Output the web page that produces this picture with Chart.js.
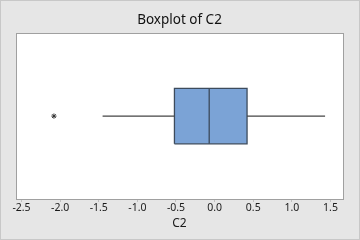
<!DOCTYPE html>
<html>
<head>
<meta charset="utf-8">
<script src="https://cdn.jsdelivr.net/npm/chart.js@4/dist/chart.umd.min.js"></script>
<style>
html,body{margin:0;padding:0;background:#e6e6e6;}
canvas{display:block;}
</style>
</head>
<body>
<canvas id="c" width="360" height="240"></canvas>
<script>
// ---- data ----
const categories = ['C2'];
const q1Values = [-0.52];
const medianValues = [-0.07];
const q3Values = [0.42];
const whiskerLowValues = [-1.45];
const whiskerHighValues = [1.43];
const outlierValues = [-2.08];
const tickValues = [-2.5, -2.0, -1.5, -1.0, -0.5, 0.0, 0.5, 1.0, 1.5];

// ---- style ----
const BOX_HALF = 0.335;   // half box height in y-units
const boxFill = '#7ba3d6';
const boxEdge = '#3d4b5c';
const lineCol = '#444444';

const i = 0;
const q1 = q1Values[i], q3 = q3Values[i], med = medianValues[i];
const wl = whiskerLowValues[i], wh = whiskerHighValues[i];

const datasets = [
  { // box
    data: [{x:q1,y:-BOX_HALF},{x:q3,y:-BOX_HALF},{x:q3,y:BOX_HALF},{x:q1,y:BOX_HALF},{x:q1,y:-BOX_HALF}],
    showLine: true, fill: 'shape', backgroundColor: boxFill, borderColor: boxEdge,
    borderWidth: 1.3, pointRadius: 0, tension: 0, order: 10
  },
  { // median
    data: [{x:med,y:-BOX_HALF},{x:med,y:BOX_HALF}],
    showLine: true, borderColor: boxEdge, borderWidth: 1.3, pointRadius: 0, order: 1
  },
  { // lower whisker
    data: [{x:wl,y:0},{x:q1,y:0}],
    showLine: true, borderColor: lineCol, borderWidth: 1.2, pointRadius: 0, order: 1
  },
  { // upper whisker
    data: [{x:q3,y:0},{x:wh,y:0}],
    showLine: true, borderColor: lineCol, borderWidth: 1.2, pointRadius: 0, order: 1
  },
  { // outliers
    data: outlierValues.map(v => ({x:v, y:0})),
    showLine: false, pointStyle: 'star', pointRadius: 2.6, borderColor: '#333333',
    borderWidth: 1, backgroundColor: '#333333', order: 0
  }
];

const frame = {
  id: 'frame',
  beforeDraw(chart) {
    const ctx = chart.ctx, a = chart.chartArea;
    ctx.save();
    ctx.fillStyle = '#e6e6e6';
    ctx.fillRect(0, 0, chart.width, chart.height);
    ctx.strokeStyle = '#c8c8c8';
    ctx.lineWidth = 1;
    ctx.strokeRect(0.5, 0.5, chart.width - 1, chart.height - 1);
    ctx.fillStyle = '#ffffff';
    ctx.fillRect(a.left, a.top, a.right - a.left, a.bottom - a.top);
    ctx.restore();
  },
  afterDraw(chart) {
    const ctx = chart.ctx, a = chart.chartArea;
    ctx.save();
    ctx.strokeStyle = '#a0a0a0';
    ctx.lineWidth = 1;
    ctx.strokeRect(Math.round(a.left) + 0.5, Math.round(a.top) + 0.5,
                   Math.round(a.right - a.left), Math.round(a.bottom - a.top));
    ctx.restore();
  }
};

new Chart(document.getElementById('c'), {
  type: 'scatter',
  data: { datasets },
  plugins: [frame],
  options: {
    responsive: false,
    animation: false,
    layout: { padding: { left: 16, right: 17, top: 0, bottom: 5 } },
    plugins: {
      legend: { display: false },
      tooltip: { enabled: false },
      title: {
        display: true, text: 'Boxplot of ' + categories[0],
        color: '#111111', font: { family: 'Noto Sans', size: 13.5, weight: 'normal' },
        padding: { top: 12, bottom: 5 }
      }
    },
    scales: {
      x: {
        type: 'linear', min: -2.571, max: 1.662,
        afterBuildTicks: axis => { axis.ticks = tickValues.map(v => ({ value: v })); },
        grid: { drawOnChartArea: false, drawTicks: true, tickLength: 3, color: '#c0c0c0' },
        border: { display: false },
        ticks: {
          padding: 0, color: '#1a1a1a', autoSkip: false, maxRotation: 0,
          font: { family: 'Noto Sans', size: 10.5 },
          callback: v => Number(v).toFixed(1)
        },
        title: {
          display: true, text: categories[0], color: '#1a1a1a',
          font: { family: 'Noto Sans', size: 12 }, padding: { top: 2, bottom: 4 }
        }
      },
      y: { type: 'linear', min: -1, max: 1, display: false }
    }
  }
});
</script>
</body>
</html>
